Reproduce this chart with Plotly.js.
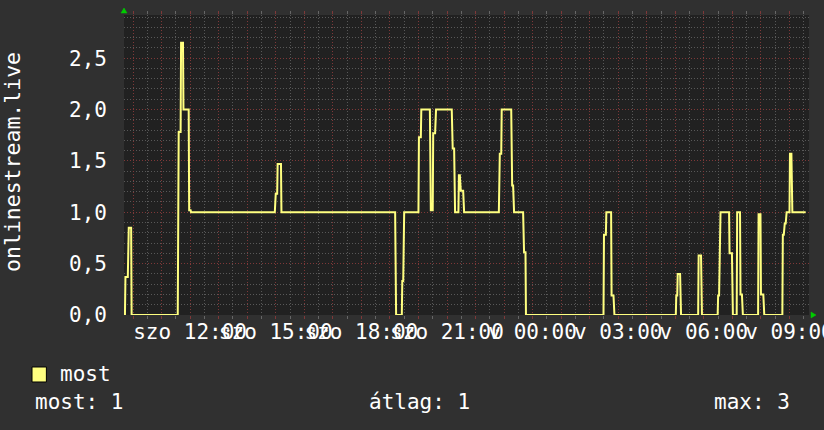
<!DOCTYPE html>
<html>
<head>
<meta charset="utf-8">
<script src="https://cdn.plot.ly/plotly-3.0.1.min.js"></script>
<style>
  html, body { margin: 0; padding: 0; background: #303030; }
  #chart { width: 824px; height: 430px; }
</style>
</head>
<body>
<div id="chart"></div>
<script>
// ---- data ----
const seriesName = "most";
const axisTitle = "onlinestream.live";

const times = [
  "2024-03-09 09:41","2024-03-09 09:43","2024-03-09 09:44","2024-03-09 09:49","2024-03-09 09:51",
  "2024-03-09 09:56","2024-03-09 09:57","2024-03-09 11:34","2024-03-09 11:36","2024-03-09 11:40",
  "2024-03-09 11:41","2024-03-09 11:45","2024-03-09 11:46","2024-03-09 11:57","2024-03-09 11:58",
  "2024-03-09 12:01","2024-03-09 12:02","2024-03-09 14:58","2024-03-09 15:00","2024-03-09 15:03",
  "2024-03-09 15:04","2024-03-09 15:11","2024-03-09 15:12","2024-03-09 19:11","2024-03-09 19:13",
  "2024-03-09 19:25","2024-03-09 19:26","2024-03-09 19:28","2024-03-09 19:30","2024-03-09 20:00",
  "2024-03-09 20:01","2024-03-09 20:05","2024-03-09 20:06","2024-03-09 20:24","2024-03-09 20:26",
  "2024-03-09 20:30","2024-03-09 20:31","2024-03-09 20:35","2024-03-09 20:37","2024-03-09 21:10",
  "2024-03-09 21:12","2024-03-09 21:15","2024-03-09 21:17","2024-03-09 21:24","2024-03-09 21:25",
  "2024-03-09 21:27","2024-03-09 21:29","2024-03-09 21:34","2024-03-09 21:36","2024-03-09 22:49",
  "2024-03-09 22:51","2024-03-09 22:54","2024-03-09 22:55","2024-03-09 23:15","2024-03-09 23:17",
  "2024-03-09 23:19","2024-03-09 23:21","2024-03-09 23:40","2024-03-09 23:42","2024-03-09 23:45",
  "2024-03-09 23:46",
  "2024-03-10 02:29","2024-03-10 02:30","2024-03-10 02:34","2024-03-10 02:35","2024-03-10 02:45",
  "2024-03-10 02:46","2024-03-10 02:50","2024-03-10 02:52","2024-03-10 05:01","2024-03-10 05:02",
  "2024-03-10 05:04","2024-03-10 05:05","2024-03-10 05:10","2024-03-10 05:12","2024-03-10 05:48",
  "2024-03-10 05:49","2024-03-10 05:54","2024-03-10 05:56","2024-03-10 06:29","2024-03-10 06:30",
  "2024-03-10 06:32","2024-03-10 06:35","2024-03-10 06:53","2024-03-10 06:54","2024-03-10 06:59",
  "2024-03-10 07:01","2024-03-10 07:09","2024-03-10 07:10","2024-03-10 07:16","2024-03-10 07:17",
  "2024-03-10 07:20","2024-03-10 07:22","2024-03-10 07:54","2024-03-10 07:55","2024-03-10 07:59",
  "2024-03-10 08:00","2024-03-10 08:05","2024-03-10 08:07","2024-03-10 08:45","2024-03-10 08:46",
  "2024-03-10 08:48","2024-03-10 08:50","2024-03-10 08:52","2024-03-10 08:54","2024-03-10 09:00",
  "2024-03-10 09:01","2024-03-10 09:04","2024-03-10 09:06","2024-03-10 09:34"
];

const values = [
  0, 0, 0.37, 0.37, 0.85,
  0.85, 0, 0, 1.78, 1.78,
  2.65, 2.65, 2.0, 2.0, 1.02,
  1.02, 1.0, 1.0, 1.18, 1.18,
  1.47, 1.47, 1.0, 1.0, 0,
  0, 0.33, 0.33, 1.0, 1.0,
  1.73, 1.73, 2.0, 2.0, 1.02,
  1.02, 1.77, 1.77, 2.0, 2.0,
  1.62, 1.62, 1.0, 1.0, 1.36,
  1.36, 1.21, 1.21, 1.0, 1.0,
  1.57, 1.57, 2.0, 2.0, 1.26,
  1.26, 1.0, 1.0, 0.61, 0.61,
  0,
  0, 0.78, 0.78, 1.0, 1.0,
  0.19, 0.19, 0, 0, 0.19,
  0.19, 0.40, 0.40, 0, 0,
  0.58, 0.58, 0, 0, 0.19,
  0.19, 1.0, 1.0, 0.6, 0.6,
  0, 0, 1.0, 1.0, 0.2,
  0.2, 0, 0, 0.98, 0.98,
  0.2, 0.2, 0, 0, 0.78,
  0.78, 0.89, 0.89, 1.0, 1.0,
  1.57, 1.57, 1.0, 1.0
];

const xRange = ["2024-03-09 09:41", "2024-03-10 09:41"];
const xTickVals = [
  "2024-03-09 10:00","2024-03-09 11:00","2024-03-09 12:00","2024-03-09 13:00","2024-03-09 14:00",
  "2024-03-09 15:00","2024-03-09 16:00","2024-03-09 17:00","2024-03-09 18:00","2024-03-09 19:00",
  "2024-03-09 20:00","2024-03-09 21:00","2024-03-09 22:00","2024-03-09 23:00","2024-03-10 00:00",
  "2024-03-10 01:00","2024-03-10 02:00","2024-03-10 03:00","2024-03-10 04:00","2024-03-10 05:00",
  "2024-03-10 06:00","2024-03-10 07:00","2024-03-10 08:00","2024-03-10 09:00"
];
const xTickText = [
  "", "", "szo 12:00", "", "",
  "szo 15:00", "", "", "szo 18:00", "",
  "", "szo 21:00", "", "", "v 00:00",
  "", "", "v 03:00", "", "",
  "v 06:00", "", "", "v 09:00"
];

const yRange = [0, 2.92];
const yTickVals = [0, 0.5, 1.0, 1.5, 2.0, 2.5];
const yTickText = ["0,0", "0,5", "1,0", "1,5", "2,0", "2,5"];

const statLabels = ["most: 1", "átlag: 1", "max: 3"];

// ---- styling ----
const mono = "DejaVu Sans Mono, monospace";
const fs = 21;
const lineColor = "#ffff80";
const minorGrid = "#585858";
const majorGrid = "#7e3838";
const dotted = "1px,2px";

const trace = {
  x: times,
  y: values,
  type: "scatter",
  mode: "lines",
  name: seriesName,
  line: { color: lineColor, width: 2 },
  hoverinfo: "skip",
  showlegend: false
};

const layout = {
  width: 824,
  height: 430,
  paper_bgcolor: "#303030",
  plot_bgcolor: "#212121",
  margin: { l: 124, r: 15, t: 15, b: 115, pad: 0 },
  font: { family: mono, color: "#ffffff", size: fs },
  xaxis: {
    type: "date",
    range: xRange,
    tickmode: "array",
    tickvals: xTickVals,
    ticktext: xTickText,
    tickangle: 0,
    ticklabeloverflow: "allow",
    ticks: "outside",
    ticklen: 3,
    tickcolor: majorGrid,
    mirror: "ticks",
    showline: false,
    zeroline: false,
    showgrid: true,
    gridcolor: majorGrid,
    griddash: dotted,
    gridwidth: 1,
    ticklabelstandoff: -5,
    tickfont: { family: mono, size: fs, color: "#ffffff" },
    minor: {
      dtick: 1800000,
      tick0: "2024-03-09 00:00",
      showgrid: true,
      gridcolor: minorGrid,
      griddash: dotted,
      gridwidth: 1,
      ticks: "outside",
      ticklen: 3,
      tickcolor: "#666666"
    },
    fixedrange: true
  },
  yaxis: {
    range: yRange,
    tickmode: "array",
    tickvals: yTickVals,
    ticktext: yTickText,
    ticks: "",
    showline: false,
    zeroline: false,
    showgrid: true,
    gridcolor: majorGrid,
    griddash: dotted,
    gridwidth: 1,
    ticklabelstandoff: 16,
    tickfont: { family: mono, size: fs, color: "#ffffff" },
    minor: {
      dtick: 0.1,
      tick0: 0,
      showgrid: true,
      gridcolor: minorGrid,
      griddash: dotted,
      gridwidth: 1
    },
    fixedrange: true
  },
  shapes: [
    // legend swatch
    { type: "rect", xref: "paper", yref: "paper",
      x0: -0.1343, x1: -0.1133, y0: -0.1733, y1: -0.2233,
      fillcolor: lineColor, line: { color: "#000000", width: 1 } },
    // green arrow at top of y axis
    { type: "path", xref: "paper", yref: "paper",
      xsizemode: "pixel", ysizemode: "pixel", xanchor: 0, yanchor: 1,
      path: "M -3,2 L 3,2 L 0,7 Z",
      fillcolor: "#00cc00", line: { color: "#00cc00", width: 0.5 } },
    // green arrow at right end of x axis
    { type: "path", xref: "paper", yref: "paper",
      xsizemode: "pixel", ysizemode: "pixel", xanchor: 1, yanchor: 0,
      path: "M 2,-3 L 2,3 L 7,0 Z",
      fillcolor: "#00cc00", line: { color: "#00cc00", width: 0.5 } }
  ],
  annotations: [
    { text: axisTitle, xref: "paper", yref: "paper", x: -0.1635, y: 0.51,
      xanchor: "center", yanchor: "middle", textangle: -90, showarrow: false,
      font: { family: mono, size: 21.5, color: "#ffffff" } },
    { text: seriesName, xref: "paper", yref: "paper", x: -0.0964, y: -0.1967,
      xanchor: "left", yanchor: "middle", showarrow: false,
      font: { family: mono, size: fs, color: "#ffffff" } },
    { text: statLabels[0], xref: "paper", yref: "paper", x: -0.1328, y: -0.29,
      xanchor: "left", yanchor: "middle", showarrow: false,
      font: { family: mono, size: fs, color: "#ffffff" } },
    { text: statLabels[1], xref: "paper", yref: "paper", x: 0.3547, y: -0.29,
      xanchor: "left", yanchor: "middle", showarrow: false,
      font: { family: mono, size: fs, color: "#ffffff" } },
    { text: statLabels[2], xref: "paper", yref: "paper", x: 0.9752, y: -0.29,
      xanchor: "right", yanchor: "middle", showarrow: false,
      font: { family: mono, size: fs, color: "#ffffff" } }
  ]
};

Plotly.newPlot("chart", [trace], layout, { staticPlot: true, displayModeBar: false });
</script>
</body>
</html>
